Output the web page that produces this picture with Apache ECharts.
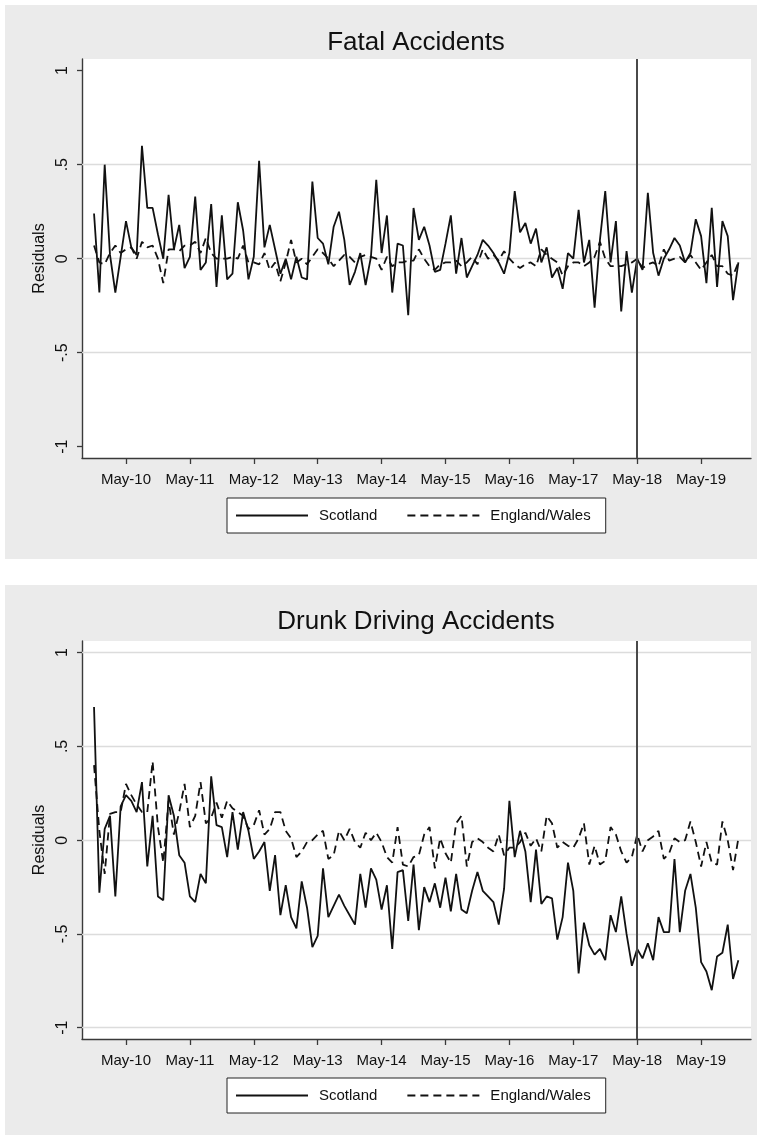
<!DOCTYPE html>
<html>
<head>
<meta charset="utf-8">
<script src="https://cdn.jsdelivr.net/npm/echarts@6/dist/echarts.min.js"></script>
<style>
html,body{margin:0;padding:0;background:#ffffff;width:762px;height:1137px;overflow:hidden}
.panel{position:absolute;left:5px;width:752px;background:#ebebeb}
#c1{top:5px;height:554px}
#c2{top:585px;height:550px}
</style>
</head>
<body>
<div id="c1" class="panel"></div>
<div id="c2" class="panel"></div>
<script>
// ---------------- data ----------------
const firstYear = 2009, firstMonthOfYear = 11;   // Nov 2009 .. Dec 2019, monthly
const xTickLabels = ['May-10','May-11','May-12','May-13','May-14','May-15','May-16','May-17','May-18','May-19'];
const eventLabel = 'May-18';
const yTickValues = [-1, -0.5, 0, 0.5, 1];
const yTickLabels = ['-1', '-.5', '0', '.5', '1'];
const seriesNames = ['Scotland', 'England/Wales'];
const panelTitles = ['Fatal Accidents', 'Drunk Driving Accidents'];

const fatalScotland = [
  0.24,-0.18, 0.50, 0.02,-0.18, 0.01, 0.20, 0.06, 0.02, 0.60, 0.27, 0.27,
  0.13, 0.00, 0.34, 0.05, 0.18,-0.05, 0.01, 0.33,-0.06,-0.02, 0.29,-0.15,
  0.23,-0.11,-0.08, 0.30, 0.15,-0.11, 0.01, 0.52, 0.06, 0.18, 0.05,-0.08,
  0.00,-0.11, 0.01,-0.10,-0.11, 0.41, 0.11, 0.08,-0.03, 0.17, 0.25, 0.10,
 -0.14,-0.07, 0.03,-0.14, 0.01, 0.42, 0.03, 0.23,-0.18, 0.08, 0.07,-0.30,
  0.27, 0.10, 0.17, 0.07,-0.07,-0.06, 0.08, 0.23,-0.08, 0.11,-0.10,-0.04,
  0.02, 0.10, 0.07, 0.03,-0.02,-0.08, 0.03, 0.36, 0.14, 0.19, 0.08, 0.16,
 -0.02, 0.06,-0.10,-0.05,-0.16, 0.03, 0.00, 0.26,-0.02, 0.10,-0.26, 0.10,
  0.36,-0.02, 0.20,-0.28, 0.04,-0.18, 0.00,-0.06, 0.35, 0.03,-0.09, 0.00,
  0.05, 0.11, 0.07,-0.02, 0.03, 0.21, 0.12,-0.13, 0.27,-0.15, 0.20, 0.12,
 -0.22,-0.02
];
const fatalEngland = [
  0.07,-0.02,-0.03, 0.03, 0.07, 0.03, 0.05, 0.06, 0.00, 0.09, 0.06, 0.07,
  0.00,-0.13, 0.05, 0.05, 0.04, 0.07, 0.07, 0.09, 0.03, 0.11, 0.03, 0.00,
  0.00, 0.00, 0.01, 0.00, 0.07,-0.02,-0.02,-0.03, 0.03,-0.06,-0.02,-0.12,
 -0.02, 0.10,-0.02, 0.00,-0.03, 0.01, 0.05, 0.03, 0.00,-0.04,-0.01, 0.02,
  0.01,-0.02, 0.01, 0.02, 0.01, 0.00,-0.06, 0.01,-0.04,-0.02,-0.02,-0.01,
 -0.01, 0.05, 0.00,-0.04,-0.06,-0.03,-0.02,-0.02,-0.01,-0.04,-0.02, 0.01,
 -0.03, 0.05, 0.00, 0.02,-0.01, 0.04, 0.00,-0.03,-0.05,-0.03,-0.02,-0.04,
  0.05, 0.02, 0.00,-0.02,-0.09,-0.04,-0.02,-0.02,-0.04,-0.02, 0.01, 0.09,
  0.00,-0.04,-0.04,-0.04,-0.03,-0.02, 0.00,-0.05,-0.03,-0.02,-0.04, 0.05,
 -0.01, 0.00, 0.01,-0.02, 0.02,-0.02,-0.06,-0.02, 0.02,-0.04,-0.04,-0.08,
 -0.09,-0.02
];
const drunkScotland = [
  0.71,-0.28, 0.06, 0.13,-0.30, 0.18, 0.24, 0.21, 0.15, 0.31,-0.14, 0.13,
 -0.30,-0.32, 0.24, 0.13,-0.08,-0.12,-0.30,-0.33,-0.18,-0.23, 0.34, 0.08,
  0.07,-0.09, 0.15,-0.05, 0.15, 0.05,-0.10,-0.06,-0.01,-0.27,-0.08,-0.40,
 -0.24,-0.41,-0.47,-0.22,-0.36,-0.57,-0.51,-0.15,-0.41,-0.35,-0.29,-0.35,
 -0.40,-0.45,-0.18,-0.36,-0.15,-0.21,-0.37,-0.24,-0.58,-0.17,-0.16,-0.43,
 -0.13,-0.48,-0.25,-0.33,-0.23,-0.36,-0.20,-0.38,-0.18,-0.37,-0.39,-0.27,
 -0.17,-0.27,-0.30,-0.33,-0.45,-0.26, 0.21,-0.09, 0.05,-0.06,-0.33,-0.05,
 -0.34,-0.30,-0.31,-0.53,-0.41,-0.12,-0.27,-0.71,-0.44,-0.56,-0.61,-0.58,
 -0.64,-0.40,-0.49,-0.30,-0.50,-0.67,-0.58,-0.63,-0.55,-0.64,-0.41,-0.49,
 -0.49,-0.10,-0.49,-0.27,-0.18,-0.36,-0.65,-0.70,-0.80,-0.62,-0.60,-0.45,
 -0.74,-0.64
];
const drunkEngland = [
  0.40, 0.05,-0.18, 0.14, 0.15, 0.15, 0.30, 0.24, 0.19, 0.15, 0.15, 0.42,
  0.07,-0.12, 0.21, 0.03, 0.15, 0.30, 0.07, 0.13, 0.31, 0.09, 0.12, 0.20,
  0.12, 0.21, 0.17, 0.15, 0.13, 0.06, 0.08, 0.16, 0.03, 0.06, 0.15, 0.15,
  0.05, 0.01,-0.09,-0.06,-0.01, 0.00, 0.03, 0.05,-0.10,-0.08, 0.05, 0.00,
  0.06,-0.01,-0.04, 0.04, 0.00, 0.04,-0.01,-0.09,-0.12, 0.07,-0.13,-0.14,
 -0.09,-0.08, 0.03, 0.07,-0.15, 0.01,-0.07,-0.12, 0.09, 0.13,-0.14,-0.01,
  0.01,-0.01,-0.04,-0.06, 0.03,-0.08,-0.04,-0.04,-0.01, 0.04,-0.03, 0.01,
 -0.06, 0.13, 0.09,-0.04,-0.01,-0.03,-0.04, 0.01, 0.09,-0.13,-0.03,-0.13,
 -0.11, 0.07, 0.03,-0.06,-0.12,-0.09, 0.03,-0.06, 0.00, 0.02, 0.05,-0.10,
 -0.07, 0.01,-0.01, 0.00, 0.10,-0.01,-0.14,-0.01,-0.12,-0.13, 0.10, 0.00,
 -0.16, 0.01
];

// ---------------- helpers ----------------
const FONT = '"Liberation Sans", Arial, Helvetica, sans-serif';
function monthIndex(year, month) { return year * 12 + (month - 1); }
function labelToIndex(lbl) { return monthIndex(2000 + parseInt(lbl.split('-')[1], 10), 5); }
const firstMonth = monthIndex(firstYear, firstMonthOfYear);
const xTickValues = xTickLabels.map(labelToIndex);
const eventValue = labelToIndex(eventLabel);
function toPoints(values) { return values.map((v, i) => [firstMonth + i, v]); }
function xLabel(v) { const k = xTickValues.indexOf(Math.round(v)); return k >= 0 ? xTickLabels[k] : ''; }
function yLabel(v) { const k = yTickValues.findIndex(t => Math.abs(t - v) < 1e-6); return k >= 0 ? yTickLabels[k] : ''; }

function makeOption(title, scot, eng, gridValues, gridTop, gridBottom, legendTop, titleTop) {
  const lastMonth = firstMonth + scot.length - 1;
  const axisColor = '#3a3a3a';
  return {
    animation: false,
    backgroundColor: '#ebebeb',
    textStyle: { fontFamily: FONT },
    title: {
      text: title, left: 411, top: titleTop, textAlign: 'center', padding: 0,
      textStyle: { fontFamily: FONT, fontSize: 26, fontWeight: 'normal', color: '#111' }
    },
    grid: {
      left: 77, right: 6, top: gridTop, bottom: gridBottom,
      show: true, backgroundColor: '#ffffff', borderWidth: 0
    },
    legend: {
      data: seriesNames,
      left: 222, top: legendTop, orient: 'horizontal',
      backgroundColor: '#ffffff', borderColor: '#222', borderWidth: 1,
      padding: [10, 15, 10, 8],
      itemWidth: 72, itemHeight: 14, itemGap: 29,
      itemStyle: { color: 'rgba(0,0,0,0)', borderColor: 'rgba(0,0,0,0)', borderWidth: 0, opacity: 0 },
      textStyle: { fontFamily: FONT, fontSize: 15, color: '#111', padding: [0, 0, 0, 6] },
      selectedMode: false
    },
    xAxis: {
      type: 'value', min: firstMonth - 2.26, max: lastMonth + 2.37,
      axisLine: { show: true, onZero: false, lineStyle: { color: axisColor, width: 1.4 } },
      axisTick: { show: true, length: 6, inside: false, customValues: xTickValues, lineStyle: { color: axisColor, width: 1.3 } },
      axisLabel: { customValues: xTickValues, formatter: xLabel, fontFamily: FONT, fontSize: 15, color: '#111', margin: 14 },
      splitLine: { show: false }
    },
    yAxis: {
      type: 'value', min: -1.06, max: 1.062,
      name: 'Residuals', nameLocation: 'middle', nameGap: 33,
      nameTextStyle: { fontFamily: FONT, fontSize: 16, color: '#111' },
      axisLine: { show: true, onZero: false, lineStyle: { color: axisColor, width: 1.4 } },
      axisTick: { show: true, length: 5, customValues: yTickValues, lineStyle: { color: axisColor, width: 1.3 } },
      axisLabel: { customValues: yTickValues, formatter: yLabel, rotate: 90, fontFamily: FONT, fontSize: 16, color: '#111', margin: 11 },
      splitLine: { show: false }
    },
    series: [
      {
        name: seriesNames[0], type: 'line', data: toPoints(scot),
        symbol: 'none', showSymbol: false, z: 3,
        lineStyle: { color: '#111', width: 1.8, type: 'solid' },
        itemStyle: { color: '#111' },
        markLine: {
          silent: true, symbol: 'none', z: 6,
          label: { show: false },
          lineStyle: { color: '#4a4a4a', width: 2, type: 'solid' },
          data: [{ xAxis: eventValue }]
        }
      },
      {
        name: seriesNames[1], type: 'line', data: toPoints(eng),
        symbol: 'none', showSymbol: false, z: 2,
        lineStyle: { color: '#111', width: 1.8, type: [8, 5] },
        itemStyle: { color: '#111' },
        markLine: {
          silent: true, symbol: 'none', z: 1,
          label: { show: false },
          lineStyle: { color: '#dcdcdc', width: 1.3, type: 'solid' },
          data: gridValues.map(v => ({ yAxis: v }))
        }
      }
    ]
  };
}

const chart1 = echarts.init(document.getElementById('c1'), null, { renderer: 'canvas' });
chart1.setOption(makeOption(panelTitles[0], fatalScotland, fatalEngland, [-0.5, 0, 0.5], 54, 101, 493, 25));
const chart2 = echarts.init(document.getElementById('c2'), null, { renderer: 'canvas' });
chart2.setOption(makeOption(panelTitles[1], drunkScotland, drunkEngland, yTickValues, 56, 96, 493, 24));
</script>
</body>
</html>
